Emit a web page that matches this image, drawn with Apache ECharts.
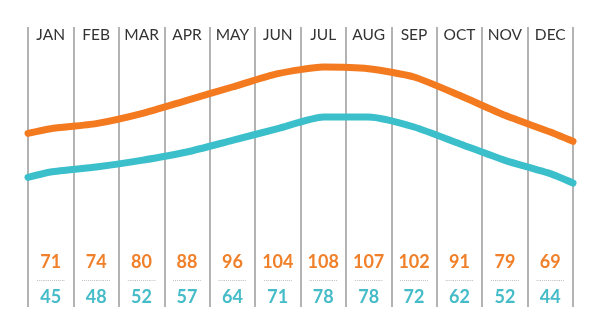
<!DOCTYPE html>
<html><head><meta charset="utf-8">
<script src="https://cdn.jsdelivr.net/npm/echarts@6/dist/echarts.min.js"></script>
<style>html,body{margin:0;padding:0;background:#fff}#c{width:600px;height:335px}</style>
</head><body><div id="c"></div>
<script>
var months = ['JAN','FEB','MAR','APR','MAY','JUN','JUL','AUG','SEP','OCT','NOV','DEC'];
var highs = [71,74,80,88,96,104,108,107,102,91,79,69];
var lows  = [45,48,52,57,64,71,78,78,72,62,52,44];
// values where the drawn lines meet the outer edges
var highEdges = [68.2, 63.4];
var lowEdges  = [41.8, 38.4];

function lineData(vals, edges){
  var d = [[0, edges[0]]];
  vals.forEach(function(v,i){ d.push([i+0.5, v]); });
  d.push([vals.length, edges[1]]);
  return d;
}
var ORANGE = '#F47A20', TEAL = '#3BBFCB';
var chart = echarts.init(document.getElementById('c'));
chart.setOption({
  animation:false,
  grid:{left:28,right:27,top:27,bottom:28},
  xAxis:[
    {type:'value',min:0,max:12,interval:1,show:true,
     axisLine:{show:false},axisTick:{show:false},axisLabel:{show:false},
     splitLine:{show:true,lineStyle:{color:'#9a9a9a',width:1.5}}},
    {type:'category',data:months,position:'top',boundaryGap:true,
     axisLine:{show:false},axisTick:{show:false},splitLine:{show:false},
     axisLabel:{inside:true,margin:0,interval:0,hideOverlap:false,color:'#333',fontFamily:'Lato',fontSize:15.5}},
    {type:'category',data:months.map(function(m,i){return i;}),position:'bottom',boundaryGap:true,
     axisLine:{show:false},axisTick:{show:false},splitLine:{show:false},
     axisLabel:{inside:true,margin:1,interval:0,
       formatter:function(v){var i=+v;return '{o|'+highs[i]+'}\n{d|...............}\n{t|'+lows[i]+'}';},
       rich:{
         o:{color:'#F0802A',fontFamily:'Lato',fontWeight:'bold',fontSize:18,lineHeight:17.5,align:'center'},
         d:{color:'#888',fontFamily:'DejaVu Sans',fontSize:6,lineHeight:17.5,align:'center'},
         t:{color:'#45BCC8',fontFamily:'Lato',fontWeight:'bold',fontSize:18,lineHeight:17.5,align:'center'}
       }}}
  ],
  yAxis:{type:'value',min:-36,max:132,show:false,splitLine:{show:false}},
  series:[
    {type:'line',xAxisIndex:0,data:lineData(highs,highEdges),showSymbol:false,smooth:0.2,
     lineStyle:{color:ORANGE,width:7,cap:'round',join:'round'}},
    {type:'line',xAxisIndex:0,data:lineData(lows,lowEdges),showSymbol:false,smooth:0.2,
     lineStyle:{color:TEAL,width:7,cap:'round',join:'round'}}
  ]
});
</script></body></html>
